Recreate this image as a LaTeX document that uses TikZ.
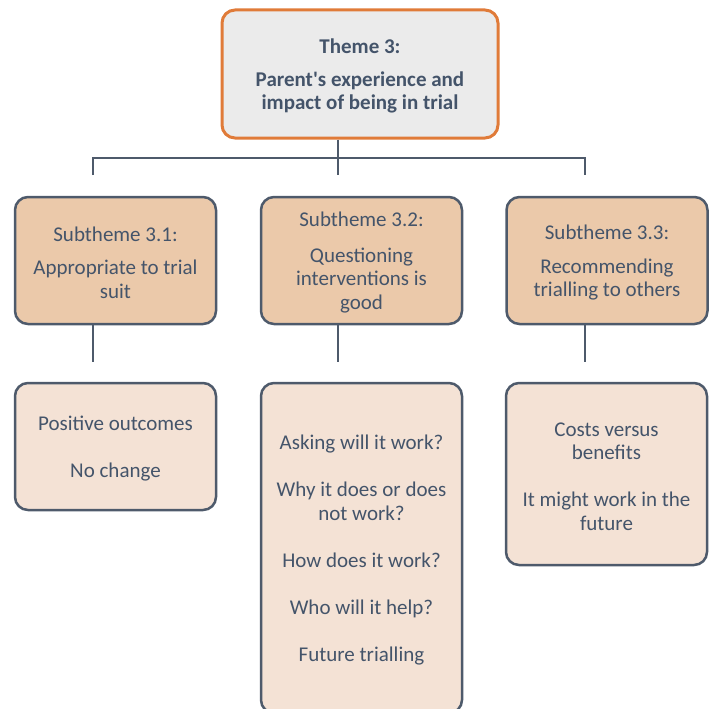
\documentclass[tikz,border=0pt]{standalone}
\usepackage{fontspec}
\setmainfont{Carlito}

\definecolor{txtcol}{HTML}{44546A}
\definecolor{linecol}{HTML}{4E5A6B}
\definecolor{orangecol}{HTML}{E07B39}
\definecolor{themefill}{HTML}{EBEBEB}
\definecolor{subfill}{HTML}{EBC9AA}
\definecolor{leaffill}{HTML}{F4E2D5}

\tikzset{
  box/.style={rectangle, rounded corners=13pt, line width=2.5pt, draw=linecol, text=txtcol,
    align=center, inner sep=0pt, font=\fontsize{21}{23.5}\selectfont},
  themebox/.style={box, draw=orangecol, line width=3pt, fill=themefill,
    font=\fontsize{21}{23.5}\selectfont\bfseries, minimum width=276pt, minimum height=128pt},
  subbox/.style={box, fill=subfill, minimum width=201pt, minimum height=127pt},
  leafbox/.style={box, fill=leaffill, minimum width=201pt},
  link/.style={line width=2.5pt, draw=linecol}
}

\begin{document}
\begin{tikzpicture}[x=1pt,y=-1pt]
    \clip (0,0) rectangle (709,709);

    % theme
    \node[themebox] (theme) at (360,74) {\rule{0pt}{19pt}Theme 3:\\[9pt]Parent\textquotesingle s experience and\\impact of being in trial};

    % subthemes
    \node[subbox] (sub1) at (115.5,260.5) {\rule{0pt}{19pt}Subtheme 3.1:\\[10pt]Appropriate to trial\\suit};
    \node[subbox] (sub2) at (361.5,260.5) {\rule{0pt}{19pt}Subtheme 3.2:\\[12pt]Questioning\\interventions is\\good};
    \node[subbox] (sub3) at (607,260.5) {\rule{0pt}{19pt}Subtheme 3.3:\\[10pt]Recommending\\trialling to others};

    % codes
    \node[leafbox, minimum height=127pt] (leaf1) at (115.5,446.5) {\rule{0pt}{19pt}Positive outcomes\\[23.5pt]No change};
    \node[leafbox, minimum height=330pt] (leaf2) at (361.5,548) {\rule{0pt}{19pt}Asking will it work?\\[23.5pt]Why it does or does\\not work?\\[23.5pt]How does it work?\\[23.5pt]Who will it help?\\[23.5pt]Future trialling};
    \node[leafbox, minimum height=182pt] (leaf3) at (606.5,474) {\rule{0pt}{19pt}Costs versus\\benefits\\[23.5pt]It might work in the\\future};

    % connectors
    \coordinate (bar) at (0,158);
    \foreach \x/\n in {93/1,338/2,585/3} {
        \coordinate (top\n) at (\x,175);
        \coordinate (low\n) at (\x,362);
    }
    \draw[link] (theme.south -| top2) -- (top2);
    \draw[link] (top1) -- (top1 |- bar) -- (top3 |- bar) -- (top3);
    \foreach \n in {1,2,3}
        \draw[link] (sub\n.south -| low\n) -- (low\n);

\end{tikzpicture}
\end{document}
